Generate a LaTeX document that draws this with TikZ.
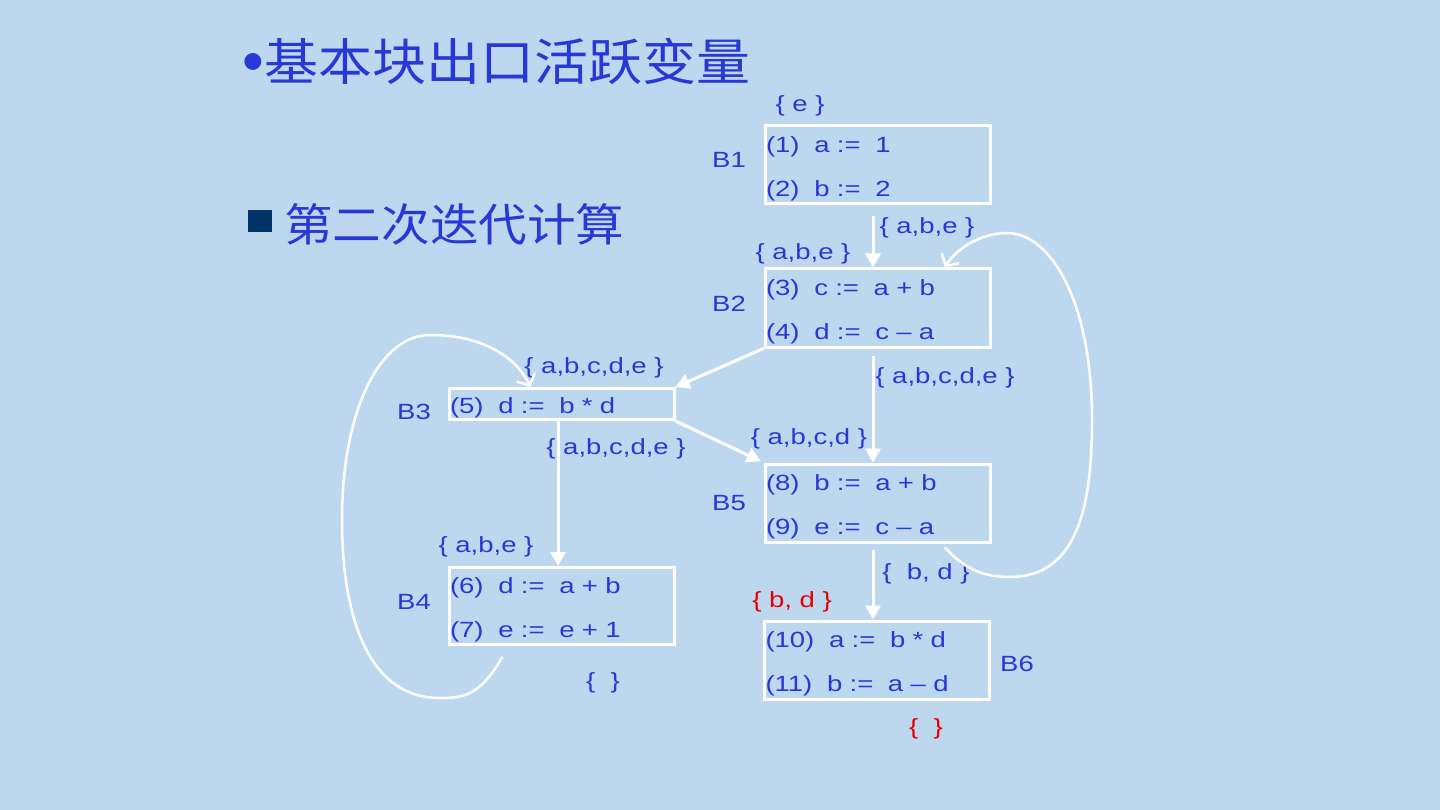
\documentclass[tikz,border=0pt]{standalone}
\usepackage{fontspec}
\setmainfont{Liberation Sans}[FakeStretch=1.25]
\newfontfamily\plainfont{Liberation Sans}
\newfontfamily\cjk{Noto Sans CJK SC}[FakeStretch=1.08]
\usetikzlibrary{arrows.meta, positioning}

\definecolor{slidebg}{RGB}{189,215,238}
\definecolor{txtblue}{RGB}{40,56,214}
\definecolor{navy}{RGB}{0,51,102}
\definecolor{setred}{RGB}{235,0,0}

\begin{document}
\begin{tikzpicture}[x=1pt, y=-1pt,
    blk/.style={rectangle, draw=white, line width=3pt, text=txtblue, align=left,
                text width=223pt, inner xsep=1pt, inner ysep=0pt, minimum width=225pt,
                text height=24pt, font=\fontsize{22}{44}\selectfont},
    lbl/.style={text=txtblue, inner sep=0pt, yshift=-2pt, font=\fontsize{22}{26}\selectfont},
    redlbl/.style={lbl, text=setred},
    arr/.style={draw=white, line width=3pt, -{Triangle[length=14pt,width=15pt]}},
    back/.style={draw=white, line width=2.5pt, -{Straight Barb[length=9pt,width=20pt]}},
]
\useasboundingbox (0,0) rectangle (1440,810);
\fill[slidebg] (0,0) rectangle (1440,810);

% headings
\node[text=txtblue, inner sep=0pt, font=\fontsize{62}{62}\plainfont] (dot) at (253.5,68) {•};
\node[anchor=west, text=txtblue, inner sep=0pt, font=\fontsize{50}{54}\selectfont\cjk] (title) at (264,61) {基本块出口活跃变量};
\node[fill=navy, minimum width=24pt, minimum height=22pt, inner sep=0pt] (sq) at (260,221) {};
\node[anchor=west, text=txtblue, inner sep=0pt, font=\fontsize{45}{48}\selectfont\cjk] (sub) at (284,224) {第二次迭代计算};

% basic blocks
\node[blk, minimum height=78pt] (b1) at (877.5,165) {(1)\ \ a :=\ \ 1\\(2)\ \ b :=\ \ 2};
\node[blk, minimum height=78pt] (b2) at (877.5,308) {(3)\ \ c :=\ \ a + b\\(4)\ \ d :=\ \ c – a};
\node[blk, minimum height=31pt] (b3) at (561.5,404) {(5)\ \ d :=\ \ b * d};
\node[blk, minimum height=77pt] (b4) at (561.5,606) {(6)\ \ d :=\ \ a + b\\(7)\ \ e :=\ \ e + 1};
\node[blk, minimum height=78pt] (b5) at (877.5,503) {(8)\ \ b :=\ \ a + b\\(9)\ \ e :=\ \ c – a};
\node[blk, minimum height=78pt] (b6) at (877,660) {(10)\ \ a :=\ \ b * d\\(11)\ \ b :=\ \ a – d};

% block names
\node[lbl] (n1) at (729,158) {B1};
\node[lbl] (n2) at (729,302) {B2};
\node[lbl] (n3) at (414,410) {B3};
\node[lbl] (n4) at (414,600) {B4};
\node[lbl] (n5) at (729,501) {B5};
\node[lbl] (n6) at (1017,662) {B6};

% live sets
\node[lbl] (s1in)  at (800,104) {\{ e \}};
\node[lbl] (s1out) at (927,226) {\{ a,b,e \}};
\node[lbl] (s2in)  at (803,252) {\{ a,b,e \}};
\node[lbl] (s2out) at (945,376) {\{ a,b,c,d,e \}};
\node[lbl] (s3in)  at (594,366) {\{ a,b,c,d,e \}};
\node[lbl] (s3out) at (616,447) {\{ a,b,c,d,e \}};
\node[lbl] (s5in)  at (809,437) {\{ a,b,c,d \}};
\node[lbl] (s4in)  at (486,545) {\{ a,b,e \}};
\node[lbl] (s4out) at (603,681) {\{\ \ \}};
\node[lbl] (s5out) at (926,572) {\{\ \ b, d \}};
\node[redlbl] (s6in)  at (792,600) {\{ b, d \}};
\node[redlbl] (s6out) at (926,727) {\{\ \ \}};

% flow edges
\draw[arr] ([xshift=-4.5pt,yshift=-11pt]b1.south) -- ([xshift=-4.5pt]b2.north);
\draw[arr] ([xshift=-4.5pt,yshift=-7pt]b2.south) -- ([xshift=-4.5pt]b5.north);
\draw[arr] (b2.south west) -- (b3.north east);
\draw[arr, shorten >=3pt] (b3.south east) -- (b5.north west);
\draw[arr] ([xshift=-3.5pt]b3.south) -- ([xshift=-3.5pt]b4.north);
\draw[arr] ([xshift=-4.5pt,yshift=-6pt]b5.south) -- ([xshift=-4pt]b6.north);

% back edges
\draw[back] ([xshift=-59pt,yshift=-11pt]b4.south)
    .. controls (480,695) and (465,698) .. (440,698)
    .. controls (365,698) and (342,610) .. (342,520)
    .. controls (342,410) and (380,335) .. (430,335)
    .. controls (480,335) and (515,355) .. ([xshift=-31pt]b3.north);
\draw[back] ([xshift=67.5pt,yshift=-4pt]b5.south)
    .. controls (965,570) and (985,577) .. (1010,577)
    .. controls (1080,577) and (1092,500) .. (1092,420)
    .. controls (1092,300) and (1050,233) .. (1007,233)
    .. controls (980,233) and (955,250) .. ([xshift=67.5pt]b2.north);
\end{tikzpicture}
\end{document}
